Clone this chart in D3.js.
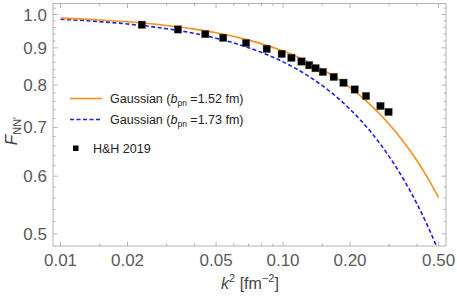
<!DOCTYPE html>
<html>
<head>
<meta charset="utf-8">
<script src="https://cdn.jsdelivr.net/npm/d3@7"></script>
<style>
  body { margin: 0; background: #fff; }
  svg { font-family: "Liberation Sans", Arial, sans-serif; }
</style>
</head>
<body>
<div id="chart"></div>
<script>
// curve samples (k^2 in fm^-2)
const k2Curve = [0.01, 0.015, 0.02, 0.03, 0.04, 0.05, 0.07, 0.10, 0.13, 0.16, 0.20, 0.25, 0.30, 0.35, 0.40, 0.45, 0.50];
const gauss152 = [0.9885, 0.9828, 0.9772, 0.9659, 0.9548, 0.9439, 0.9223, 0.8909, 0.8606, 0.8312, 0.7937, 0.7492, 0.7071, 0.6674, 0.6300, 0.5946, 0.5612];
const gauss173 = [0.9851, 0.9778, 0.9705, 0.9561, 0.9419, 0.9279, 0.9005, 0.8610, 0.8232, 0.7871, 0.7413, 0.6879, 0.6383, 0.5923, 0.5496, 0.5100, 0.4732];

// H&H 2019 points
const hhK2 = [0.0232, 0.0337, 0.0447, 0.0538, 0.0682, 0.0845, 0.0987, 0.109, 0.121, 0.131, 0.140, 0.151, 0.169, 0.187, 0.210, 0.236, 0.274, 0.298];
const hhF  = [0.968, 0.954, 0.940, 0.929, 0.914, 0.897, 0.883, 0.872, 0.862, 0.852, 0.844, 0.834, 0.821, 0.806, 0.789, 0.773, 0.749, 0.735];

const xTicks = [0.01, 0.02, 0.05, 0.10, 0.20, 0.50];
const xTickLabels = ["0.01", "0.02", "0.05", "0.10", "0.20", "0.50"];
const xMinor = [0.015, 0.03, 0.04, 0.06, 0.07, 0.08, 0.09, 0.15, 0.3, 0.4];
const yTicks = [0.5, 0.6, 0.7, 0.8, 0.9, 1.0];
const yTickLabels = ["0.5", "0.6", "0.7", "0.8", "0.9", "1.0"];
const yMinor = [0.52, 0.54, 0.56, 0.58, 0.62, 0.64, 0.66, 0.68, 0.72, 0.74, 0.76, 0.78, 0.82, 0.84, 0.86, 0.88, 0.92, 0.94, 0.96, 0.98, 1.02];

const W = 457, H = 297;
const L = 53, R = 446, T = 3.5, B = 246;

const svg = d3.select("#chart").append("svg")
  .attr("width", W).attr("height", H);

const x = d3.scaleLog().domain([0.00925, 0.540]).range([L, R]);
const y = d3.scaleLog().domain([0.4812, 1.0354]).range([B, T]);

const frameColor = "#b4b4b4";
const labelColor = "#5a5a5a";

// ticks (inside the frame, on all four sides)
function tickLines(vals, len) {
  vals.forEach(v => {
    svg.append("line").attr("x1", x(v)).attr("x2", x(v)).attr("y1", B).attr("y2", B - len)
      .attr("stroke", frameColor);
    svg.append("line").attr("x1", x(v)).attr("x2", x(v)).attr("y1", T).attr("y2", T + len)
      .attr("stroke", frameColor);
  });
}
function tickLinesY(vals, len) {
  vals.forEach(v => {
    svg.append("line").attr("y1", y(v)).attr("y2", y(v)).attr("x1", L).attr("x2", L + len)
      .attr("stroke", frameColor);
    svg.append("line").attr("y1", y(v)).attr("y2", y(v)).attr("x1", R).attr("x2", R - len)
      .attr("stroke", frameColor);
  });
}
tickLines(xTicks, 4.5);
tickLines(xMinor, 2.5);
tickLinesY(yTicks, 4.5);
tickLinesY(yMinor, 2.5);

// frame
svg.append("rect")
  .attr("x", L).attr("y", T).attr("width", R - L).attr("height", B - T)
  .attr("fill", "none").attr("stroke", frameColor).attr("stroke-width", 1);

// tick labels
xTicks.forEach((v, i) => {
  svg.append("text")
    .attr("x", x(v)).attr("y", 266)
    .attr("text-anchor", "middle")
    .attr("font-size", 17).attr("fill", labelColor)
    .text(xTickLabels[i]);
});
yTicks.forEach((v, i) => {
  svg.append("text")
    .attr("x", 47).attr("y", y(v) + 6)
    .attr("text-anchor", "end")
    .attr("font-size", 17).attr("fill", labelColor)
    .text(yTickLabels[i]);
});

// axis titles
const xt = svg.append("text")
  .attr("x", 250).attr("y", 289)
  .attr("text-anchor", "middle")
  .attr("font-size", 16).attr("fill", "#444");
xt.append("tspan").attr("font-style", "italic").text("k");
xt.append("tspan").attr("font-size", 11).attr("dy", -7).text("2");
xt.append("tspan").attr("dy", 7).text(" [fm");
xt.append("tspan").attr("font-size", 11).attr("dy", -7).text("\u22122");
xt.append("tspan").attr("dy", 7).text("]");

const yt = svg.append("text")
  .attr("transform", "translate(17,131) rotate(-90)")
  .attr("text-anchor", "middle")
  .attr("font-size", 17).attr("fill", "#444");
yt.append("tspan").attr("font-style", "italic").text("F");
yt.append("tspan").attr("font-size", 11).attr("dy", 4).text("NN\u2032");

// clip for curves
svg.append("clipPath").attr("id", "plotClip")
  .append("rect").attr("x", L).attr("y", T).attr("width", R - L).attr("height", B - T);

const line = d3.line()
  .x(d => x(d[0]))
  .y(d => y(d[1]))
  .curve(d3.curveMonotoneX);

svg.append("path")
  .datum(k2Curve.map((k, i) => [k, gauss173[i]]))
  .attr("clip-path", "url(#plotClip)")
  .attr("fill", "none")
  .attr("stroke", "#1a1aff")
  .attr("stroke-width", 1.6)
  .attr("stroke-dasharray", "4,2.5")
  .attr("d", line);

svg.append("path")
  .datum(k2Curve.map((k, i) => [k, gauss152[i]]))
  .attr("clip-path", "url(#plotClip)")
  .attr("fill", "none")
  .attr("stroke", "#f7901e")
  .attr("stroke-width", 1.6)
  .attr("d", line);

// data points
const sq = 7.5;
svg.selectAll(".hh")
  .data(hhK2.map((k, i) => [k, hhF[i]]))
  .enter().append("rect")
  .attr("x", d => x(d[0]) - sq / 2)
  .attr("y", d => y(d[1]) - sq / 2)
  .attr("width", sq).attr("height", sq)
  .attr("fill", "#000")
  .attr("stroke", "#777").attr("stroke-width", 0.4);

// legend
const legend = svg.append("g");
const legItems = [
  { label: "1.52", color: "#f7901e", dash: null, y: 98.5 },
  { label: "1.73", color: "#1a1aff", dash: "4,2.5", y: 119.5 }
];
legItems.forEach(it => {
  legend.append("line")
    .attr("x1", 70).attr("x2", 102).attr("y1", it.y).attr("y2", it.y)
    .attr("stroke", it.color).attr("stroke-width", 1.6)
    .attr("stroke-dasharray", it.dash);
  const t = legend.append("text")
    .attr("x", 110).attr("y", it.y + 4.5)
    .attr("font-size", 12.5).attr("fill", "#222");
  t.append("tspan").text("Gaussian (");
  t.append("tspan").attr("font-style", "italic").text("b");
  t.append("tspan").attr("font-size", 8.5).attr("dy", 3).text("pn");
  t.append("tspan").attr("dy", -3).text(" =" + it.label + " fm)");
});
legend.append("rect")
  .attr("x", 73).attr("y", 145.5).attr("width", 5.5).attr("height", 5.5)
  .attr("fill", "#000");
legend.append("text")
  .attr("x", 93).attr("y", 152.5)
  .attr("font-size", 12.5).attr("fill", "#222")
  .text("H&H 2019");
</script>
</body>
</html>
